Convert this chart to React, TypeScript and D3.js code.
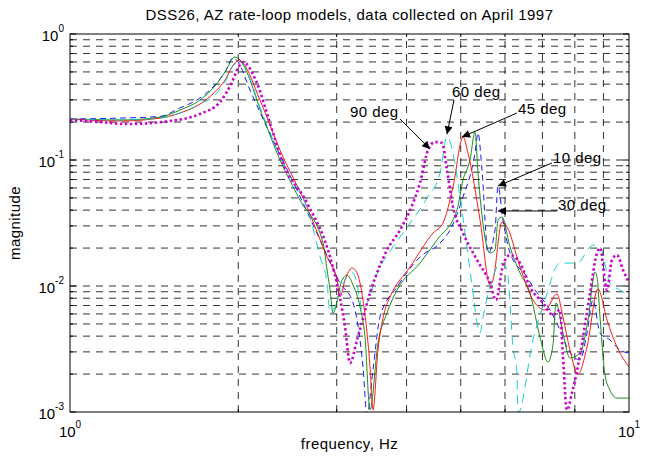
import React from "react";
import * as d3 from "d3";

const TITLE = "DSS26, AZ rate-loop models, data collected on April 1997";
const X_LABEL = "frequency, Hz";
const Y_LABEL = "magnitude";

const X_DOMAIN = [1, 10];
const Y_DOMAIN = [0.001, 1];
const X_TICK_EXP = [0, 1];
const Y_TICK_EXP = [0, -1, -2, -3];

// 10 deg (blue dashed)
const FREQ_10 = [1.0,1.229,1.449,1.573,1.708,1.817,1.894,1.957,1.998,2.099,2.307,2.547,2.801,3.041,3.209,3.343,3.399,3.483,3.585,3.846,4.228,4.591,4.784,5.047,5.303,5.369,5.458,5.595,5.759,5.830,5.951,6.126,6.569,6.734,7.222,7.525,7.745,8.172,8.412,8.622,8.874,9.247,9.637,10.0];
const MAG_10 = [0.2115,0.215,0.222,0.2586,0.3105,0.3937,0.4995,0.645,0.599,0.359,0.144,0.0578,0.0232,0.01056,0.00733,0.00228,0.00095,0.00215,0.00568,0.00982,0.0170,0.0219,0.0278,0.0508,0.1136,0.1638,0.0833,0.0183,0.0278,0.0622,0.0334,0.0183,0.0118,0.00982,0.00645,0.00448,0.00328,0.00259,0.00424,0.00774,0.00424,0.00373,0.0031,0.00294];

// 30 deg (green solid)
const FREQ_30 = [1.0,1.229,1.449,1.573,1.708,1.817,1.894,1.973,2.014,2.214,2.375,2.579,2.836,2.883,2.919,2.955,3.067,3.130,3.209,3.303,3.371,3.441,3.556,3.690,3.846,4.228,4.535,4.923,5.047,5.195,5.303,5.369,5.641,5.759,5.830,5.927,6.126,6.383,6.651,6.930,7.162,7.311,7.402,7.618,7.842,8.172,8.447,8.694,8.766,8.874,9.058,9.247,9.518,10.0];
const MAG_30 = [0.2115,0.2077,0.219,0.249,0.299,0.387,0.4995,0.657,0.622,0.219,0.1,0.0481,0.0219,0.0134,0.0093,0.00611,0.01116,0.0122,0.01018,0.00681,0.00394,0.00104,0.00353,0.00611,0.0093,0.0152,0.0232,0.0401,0.0694,0.1,0.1668,0.0788,0.0183,0.0193,0.0334,0.0353,0.0204,0.0127,0.0088,0.00394,0.00249,0.0034,0.00733,0.00424,0.00268,0.00294,0.00537,0.0129,0.0118,0.00568,0.00197,0.00149,0.00129,0.00129];

// 45 deg (red solid)
const FREQ_45 = [1.000,1.229,1.449,1.573,1.708,1.817,1.894,1.949,2.006,2.039,2.187,2.375,2.655,2.883,3.004,3.041,3.105,3.196,3.262,3.343,3.399,3.441,3.483,3.556,3.660,3.736,4.058,4.461,4.648,4.844,5.047,5.152,5.414,5.641,5.711,5.927,6.051,6.383,6.734,7.074,7.433,7.618,7.842,8.105,8.412,8.801,9.134,9.518,10.0];
const MAG_45 = [0.2115,0.204,0.215,0.236,0.278,0.347,0.431,0.547,0.622,0.589,0.299,0.120,0.0424,0.0170,0.01116,0.00818,0.01116,0.0139,0.0127,0.00774,0.00424,0.00228,0.00104,0.00310,0.00645,0.00818,0.01415,0.0263,0.0316,0.0611,0.1522,0.1136,0.0334,0.01018,0.01116,0.0322,0.0294,0.01415,0.00774,0.00645,0.00864,0.00568,0.00310,0.0020,0.00328,0.00947,0.00537,0.00328,0.00228];

// 60 deg (cyan dashed)
const FREQ_60 = [1.0,1.229,1.449,1.573,1.708,1.817,1.894,1.957,2.014,2.064,2.214,2.404,2.688,2.801,2.883,2.919,3.130,3.209,3.303,3.330,3.585,3.782,4.058,4.352,4.591,4.725,4.844,4.985,5.195,5.259,5.414,5.481,5.711,5.878,6.051,6.202,6.303,6.329,6.734,7.074,7.525,8.072,8.622,8.874,9.247,9.637,10.0];
const MAG_60 = [0.2115,0.2077,0.215,0.236,0.278,0.328,0.416,0.557,0.610,0.518,0.2276,0.0947,0.0353,0.0170,0.01056,0.00611,0.0118,0.0127,0.00774,0.00645,0.01415,0.0204,0.0316,0.0499,0.0788,0.1522,0.1136,0.0508,0.0134,0.0088,0.00424,0.00568,0.0118,0.0152,0.0134,0.00328,0.00204,0.00098,0.00373,0.00774,0.0152,0.0152,0.0211,0.0204,0.01056,0.0093,0.00849];

// 90 deg (magenta dotted)
const FREQ_90 = [1.0,1.131,1.265,1.510,1.708,1.855,1.949,1.998,2.039,2.160,2.279,2.404,2.655,2.919,3.041,3.105,3.169,3.262,3.441,3.690,3.894,4.109,4.228,4.370,4.498,4.629,4.725,4.844,5.047,5.347,5.641,5.782,5.951,6.126,6.383,6.651,7.017,7.311,7.525,7.618,7.745,7.906,8.172,8.516,8.766,8.874,9.134,9.324,9.518,9.757,10.0];
const MAG_90 = [0.2077,0.2002,0.193,0.204,0.232,0.2886,0.416,0.537,0.599,0.408,0.1966,0.0947,0.0456,0.0170,0.00803,0.00473,0.00245,0.00373,0.0088,0.0193,0.0278,0.0456,0.0657,0.120,0.139,0.1364,0.0833,0.0424,0.0263,0.0161,0.01056,0.00774,0.01468,0.0176,0.0152,0.00982,0.00733,0.00589,0.00645,0.00273,0.00104,0.00141,0.00283,0.0088,0.0183,0.0200,0.0093,0.0161,0.0176,0.0134,0.01056];

// annotations: label, text anchor (f, m), arrow tail (f, m), arrow tip (f, m)
const ANNOT_LABELS = ["90 deg", "60 deg", "45 deg", "10 deg", "30 deg"];
const ANNOT_TEXT_F = [3.169, 4.824, 6.329, 7.311, 7.464];
const ANNOT_TEXT_M = [0.219, 0.316, 0.232, 0.0947, 0.0401];
const ANNOT_TAIL_F = [3.894, 4.863, 6.303, 7.281, 7.433];
const ANNOT_TAIL_M = [0.2115, 0.299, 0.236, 0.0947, 0.0394];
const ANNOT_TIP_F = [4.406, 4.725, 5.026, 5.830, 5.830];
const ANNOT_TIP_M = [0.122, 0.160, 0.1522, 0.0622, 0.0394];

const W = 653, H = 458;
const M = { left: 70, right: 24, top: 34, bottom: 46 };
const FONT = "Liberation Sans, Arial, Helvetica, sans-serif";
const LS = 0.45;

const SERIES = [
  { f: FREQ_10, m: MAG_10, color: "#0000ff", width: 0.9, dash: "6,4" },
  { f: FREQ_30, m: MAG_30, color: "#008000", width: 0.9, dash: null },
  { f: FREQ_45, m: MAG_45, color: "#ff0000", width: 0.9, dash: null },
  { f: FREQ_60, m: MAG_60, color: "#00c8c8", width: 0.9, dash: "9,6" },
  { f: FREQ_90, m: MAG_90, color: "#cc00cc", width: 2.6, dash: "2.4,2.6" },
];

export default function App() {
  const x = d3.scaleLog().domain(X_DOMAIN).range([M.left, W - M.right]);
  const y = d3.scaleLog().domain(Y_DOMAIN).range([H - M.bottom, M.top]);
  const [x0, x1] = x.range();
  const [y0, y1] = y.range();

  const xMinor: number[] = [];
  for (let k = 2; k <= 9; k++) xMinor.push(k);
  const yAll: number[] = [];
  for (let e = -3; e < 0; e++) for (let k = 1; k <= 9; k++) yAll.push(k * Math.pow(10, e));
  yAll.push(1);

  const line = d3
    .line<[number, number]>()
    .x((d) => x(d[0]))
    .y((d) => y(d[1]))
    .curve(d3.curveMonotoneX);

  const gridStyle = { stroke: "#000", strokeOpacity: 0.8, strokeWidth: 1, strokeDasharray: "7,6" };

  return (
    <div style={{ position: "absolute", left: 0, top: 0, width: W, height: H, background: "#fff" }}>
      <svg width={W} height={H} style={{ display: "block" }} fontFamily={FONT}>
        <defs>
          <clipPath id="plotclip">
            <rect x={x0} y={y1} width={x1 - x0} height={y0 - y1} />
          </clipPath>
          <marker id="arrowhead" viewBox="0 0 10 10" refX="10" refY="5" markerWidth="11" markerHeight="8" markerUnits="userSpaceOnUse" orient="auto">
            <path d="M0,0 L10,5 L0,10 z" fill="#000" />
          </marker>
        </defs>
        <rect x={0} y={0} width={W} height={H} fill="#fff" />
        {/* grid */}
        {yAll.filter((v) => v > Y_DOMAIN[0] && v < Y_DOMAIN[1]).map((v, i) => (
          <line key={"gy" + i} x1={x0} x2={x1} y1={y(v)} y2={y(v)} {...gridStyle} />
        ))}
        {xMinor.map((v, i) => (
          <line key={"gx" + i} x1={x(v)} x2={x(v)} y1={y0} y2={y1} {...gridStyle} />
        ))}
        {/* ticks */}
        {xMinor.map((v, i) => (
          <g key={"tx" + i}>
            <line x1={x(v)} x2={x(v)} y1={y0} y2={y0 - 3} stroke="#000" />
            <line x1={x(v)} x2={x(v)} y1={y1} y2={y1 + 3} stroke="#000" />
          </g>
        ))}
        {yAll.map((v, i) => {
          const major = Math.abs(Math.log10(v) - Math.round(Math.log10(v))) < 1e-9;
          const len = major ? 6 : 3;
          return (
            <g key={"ty" + i}>
              <line x1={x0} x2={x0 + len} y1={y(v)} y2={y(v)} stroke="#000" />
              <line x1={x1} x2={x1 - len} y1={y(v)} y2={y(v)} stroke="#000" />
            </g>
          );
        })}
        {/* series */}
        <g clipPath="url(#plotclip)">
          {SERIES.map((s, i) => (
            <path
              key={"s" + i}
              d={line(s.f.map((f, j) => [f, s.m[j]] as [number, number])) || ""}
              fill="none"
              stroke={s.color}
              strokeWidth={s.width}
              strokeDasharray={s.dash || undefined}
            />
          ))}
        </g>
        {/* frame */}
        <rect x={x0} y={y1} width={x1 - x0} height={y0 - y1} fill="none" stroke="#000" strokeWidth={1} />
        {/* annotations */}
        {ANNOT_LABELS.map((lab, i) => (
          <g key={"a" + i}>
            <line
              x1={x(ANNOT_TAIL_F[i])}
              y1={y(ANNOT_TAIL_M[i])}
              x2={x(ANNOT_TIP_F[i])}
              y2={y(ANNOT_TIP_M[i])}
              stroke="#000"
              strokeWidth={1}
              markerEnd="url(#arrowhead)"
            />
            <text x={x(ANNOT_TEXT_F[i])} y={y(ANNOT_TEXT_M[i])} fontSize={15} letterSpacing={LS} fill="#000">
              {lab}
            </text>
          </g>
        ))}
        {/* y tick labels */}
        {Y_TICK_EXP.map((e, i) => (
          <text key={"yl" + i} x={x0 - 6} y={y(Math.pow(10, e)) + 7} fontSize={15} textAnchor="end" fill="#000">
            10
            <tspan fontSize={10} dy={-9}>{String(e)}</tspan>
          </text>
        ))}
        {/* x tick labels */}
        {X_TICK_EXP.map((e, i) => (
          <text key={"xl" + i} x={x(Math.pow(10, e))} y={y0 + 25} fontSize={15} textAnchor="middle" fill="#000">
            10
            <tspan fontSize={10} dy={-9}>{String(e)}</tspan>
          </text>
        ))}
        {/* labels */}
        <text x={(x0 + x1) / 2} y={20} fontSize={15} letterSpacing={LS} textAnchor="middle" fill="#000">
          {TITLE}
        </text>
        <text x={(x0 + x1) / 2} y={449} fontSize={15} letterSpacing={LS} textAnchor="middle" fill="#000">
          {X_LABEL}
        </text>
        <text transform={`translate(20,${(y0 + y1) / 2}) rotate(-90)`} fontSize={15} letterSpacing={LS} textAnchor="middle" fill="#000">
          {Y_LABEL}
        </text>
      </svg>
    </div>
  );
}
